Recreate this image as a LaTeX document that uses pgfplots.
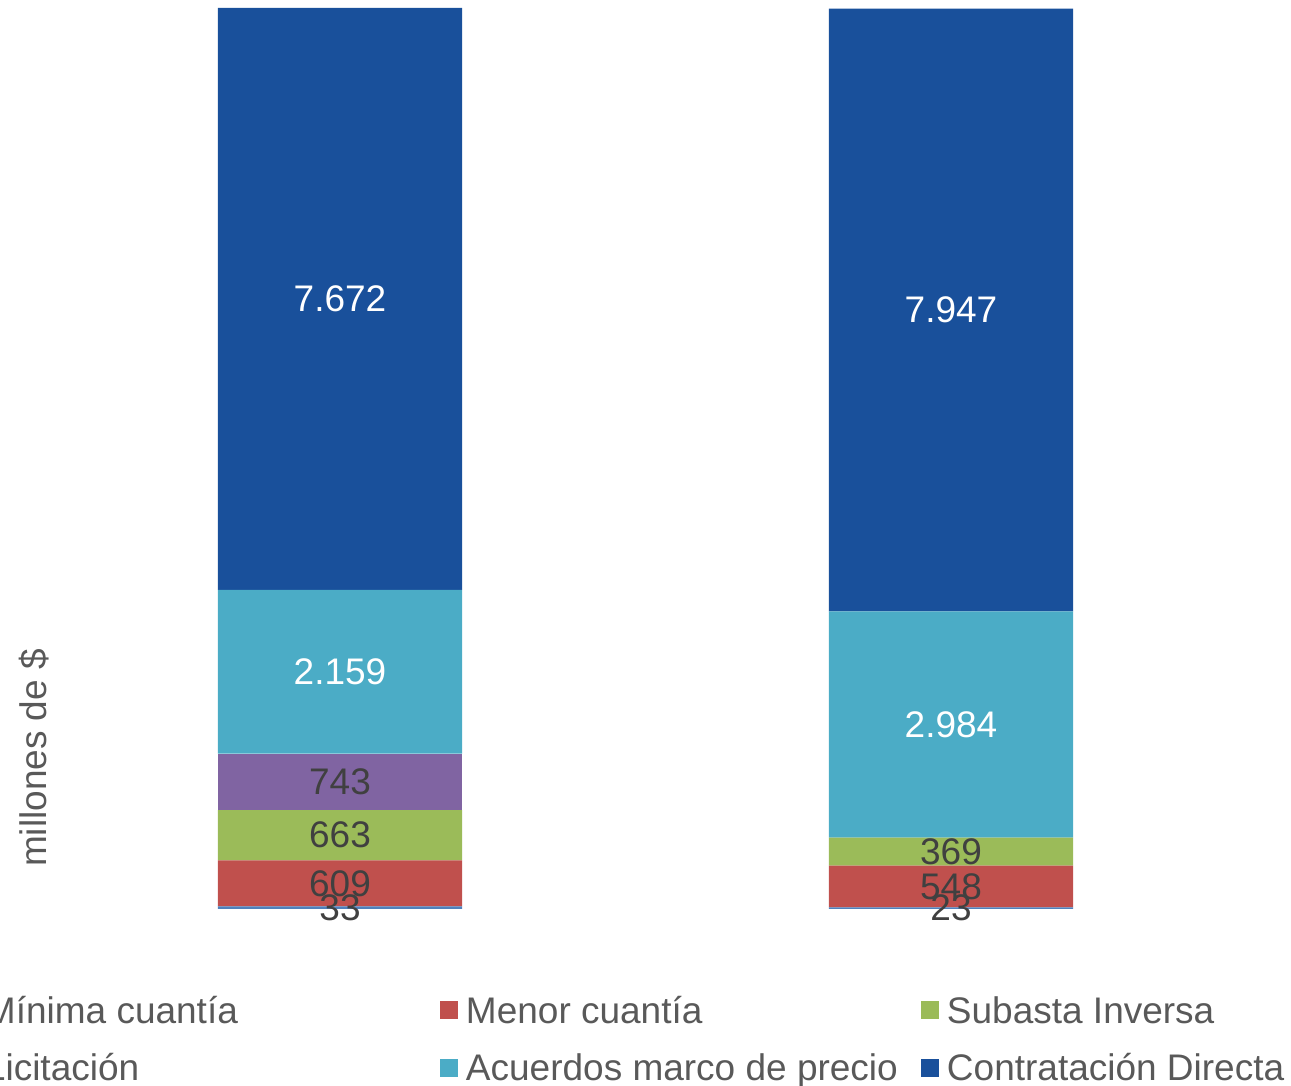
\documentclass[border=0pt]{standalone}
\usepackage{fontspec}
\setmainfont{Liberation Sans}
\usepackage{pgfplots}
\usepackage{pgfplotstable}
\pgfplotsset{compat=1.18}
\definecolor{cDir}{RGB}{25,80,155}
\definecolor{cAcu}{RGB}{75,172,198}
\definecolor{cLic}{RGB}{128,100,162}
\definecolor{cSub}{RGB}{155,187,89}
\definecolor{cMen}{RGB}{192,80,77}
\definecolor{cMin}{RGB}{79,129,189}
\definecolor{tDark}{RGB}{64,64,64}
\definecolor{tLeg}{RGB}{89,89,89}
\pgfplotstableread{
x min men sub lic acu dir Lmin Lmen Lsub Llic Lacu Ldir
0 33 609 663 743 2159 7672 33 609 663 743 2.159 7.672
1 23 548 369 0 2984 7947 23 548 369 0 2.984 7.947
}\data
\pgfplotsset{
  base/.style={
    scale only axis, width=611pt, height=450.5pt,
    at={(0pt,0pt)}, anchor=south west,
    xmin=-0.5, xmax=1.5, ymin=0, ymax=11879,
    axis x line=none, axis y line=none, xtick=\empty, ytick=\empty,
    clip=false,
  },
  sq/.style={legend image code/.code={\fill[##1] (0pt,-2.5pt) rectangle (9pt,6.5pt); \path (0pt,0pt) (13pt,0pt);}},
}
\begin{document}
\fontsize{18.5}{22}\selectfont
\begin{tikzpicture}
\begin{axis}[base, ybar stacked, bar width=0.4,
  legend columns=3,
  legend cell align=left,
  legend style={at={(axis description cs:-0.0618,-0.0977)}, anchor=north west,
    draw=none, fill=none, inner sep=0pt, outer sep=0pt, row sep=11.75pt, column sep=0pt,
    /tikz/every even column/.style={}, /tikz/every odd column/.style={},
    nodes={inner sep=0pt, outer sep=0pt, text height=13pt, text depth=4pt, anchor=west, text=tLeg},
    font=\fontsize{18.5}{22}\selectfont},
]
\addplot[draw=none, fill=cMin, sq] table[x=x, y=min] {\data};
\addlegendentry{\makebox[227.5pt][l]{Mínima cuantía}}
\addplot[draw=none, fill=cMen, sq] table[x=x, y=men] {\data};
\addlegendentry{\makebox[227.5pt][l]{Menor cuantía}}
\addplot[draw=none, fill=cSub, sq] table[x=x, y=sub] {\data};
\addlegendentry{\makebox[227.5pt][l]{Subasta Inversa}}
\addplot[draw=none, fill=cLic, sq] table[x=x, y=lic] {\data};
\addlegendentry{\makebox[227.5pt][l]{Licitación}}
\addplot[draw=none, fill=cAcu, sq] table[x=x, y=acu] {\data};
\addlegendentry{\makebox[227.5pt][l]{Acuerdos marco de precio}}
\addplot[draw=none, fill=cDir, sq] table[x=x, y=dir] {\data};
\addlegendentry{\makebox[227.5pt][l]{Contratación Directa}}
\node[rotate=90, anchor=base, text=tLeg, inner sep=0pt] at (axis description cs:0.0102,0.1676) {millones de \$};
\end{axis}
\begin{axis}[base,
  point meta=explicit symbolic,
  nodes near coords={\pgfplotspointmeta},
  every node near coord/.append style={anchor=center, inner sep=0pt, text=tDark,
    font=\fontsize{18.5}{22}\selectfont},
  lab/.style={only marks, mark=none, nodes near coords, point meta=explicit symbolic},
  wlab/.style={lab, every node near coord/.append style={text=white}},
]
\addplot[lab] table[x=x, y expr={\thisrow{min}/2}, meta=Lmin] {\data};
\addplot[lab] table[x=x, y expr={\thisrow{min}+\thisrow{men}/2}, meta=Lmen] {\data};
\addplot[lab] table[x=x, y expr={\thisrow{min}+\thisrow{men}+\thisrow{sub}/2}, meta=Lsub] {\data};
\addplot[lab, skip coords between index={1}{2}] table[x=x, y expr={\thisrow{min}+\thisrow{men}+\thisrow{sub}+\thisrow{lic}/2}, meta=Llic] {\data};
\addplot[wlab] table[x=x, y expr={\thisrow{min}+\thisrow{men}+\thisrow{sub}+\thisrow{lic}+\thisrow{acu}/2}, meta=Lacu] {\data};
\addplot[wlab] table[x=x, y expr={\thisrow{min}+\thisrow{men}+\thisrow{sub}+\thisrow{lic}+\thisrow{acu}+\thisrow{dir}/2}, meta=Ldir] {\data};
\end{axis}
\pgfresetboundingbox
\path[use as bounding box] (-17.25pt,-88.5pt) rectangle (628.25pt,454.5pt);
\end{tikzpicture}
\end{document}
